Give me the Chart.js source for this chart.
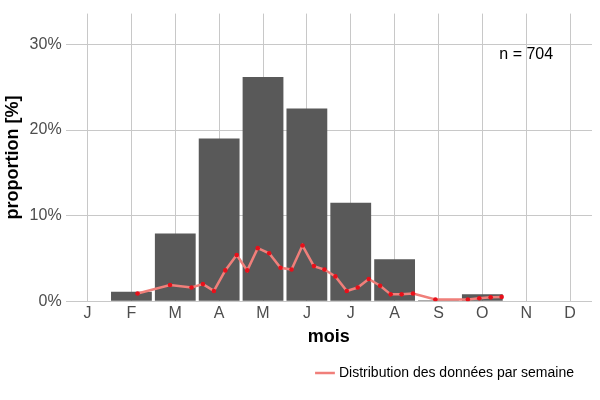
<!DOCTYPE html>
<html><head><meta charset="utf-8">
<script src="https://cdn.jsdelivr.net/npm/chart.js@4"></script>
<style>html,body{margin:0;background:#fff}#w{width:600px;height:400px}</style>
</head><body><div id="w"><canvas id="c"></canvas></div>
<script>
const months = ['J','F','M','A','M','J','J','A','S','O','N','D'];
const monthPos = [1,2,3,4,5,6,7,8,9];
const monthVals = [1.1,7.9,19.0,26.2,22.5,11.5,4.9,0.1,0.8];
const weekPos = [1.14,1.88,2.37,2.63,2.88,3.14,3.40,3.64,3.88,4.14,4.40,4.65,4.90,5.16,5.40,5.65,5.91,6.16,6.41,6.67,6.91,7.16,7.42,7.93,8.67,8.93,9.19,9.44];
const weekVals = [0.9,1.9,1.6,2.0,1.2,3.6,5.4,3.6,6.2,5.6,3.9,3.7,6.5,4.1,3.7,2.9,1.2,1.6,2.6,1.8,0.8,0.8,0.9,0.2,0.2,0.35,0.45,0.5];
const yTicks = [0,10,20,30];
const nLabel = 'n = 704';
const font = 'Liberation Sans, Arial, sans-serif';
const nPlugin = {id:'n',afterDraw(ch){const c=ch.ctx;c.save();c.font='16px '+font;c.fillStyle='#000';c.textAlign='center';c.textBaseline='middle';c.fillText(nLabel,ch.scales.x.getPixelForValue(10.0),ch.scales.y.getPixelForValue(28.8));c.restore();}};
new Chart(document.getElementById('c'),{
 type:'bar',
 data:{datasets:[
  {type:'line',label:'Distribution des données par semaine',data:weekPos.map((x,i)=>({x,y:weekVals[i]})),borderColor:'#f07f7a',borderWidth:2.5,pointRadius:2.3,pointBackgroundColor:'#e8101a',pointBorderWidth:0,tension:0},
  {label:'mois',data:monthPos.map((x,i)=>({x,y:monthVals[i]})),backgroundColor:'#595959',barPercentage:0.93,categoryPercentage:1}
 ]},
 options:{responsive:true,maintainAspectRatio:false,animation:false,
  layout:{padding:{left:2,right:8,top:-6,bottom:10}},
  plugins:{tooltip:{enabled:false},
   legend:{position:'bottom',align:'end',labels:{font:{family:font,size:14},color:'#000',boxWidth:24,padding:18,
    generateLabels:ch=>[{text:'Distribution des données par semaine',strokeStyle:'#f07f7a',fillStyle:'#f07f7a',lineWidth:2.5,pointStyle:'line',datasetIndex:0}],usePointStyle:true}}},
  scales:{
   x:{type:'linear',min:-0.5,max:11.5,offset:false,grid:{color:'#c8c8c8',drawTicks:false,offset:false},border:{display:false},
    afterBuildTicks:s=>{s.ticks=months.map((m,i)=>({value:i}));},
    ticks:{callback:(v)=>months[v],font:{family:font,size:16},color:'#4d4d4d',padding:3,autoSkip:false,maxRotation:0},
    title:{display:true,text:'mois',font:{family:font,size:18,weight:'bold'},color:'#000',padding:{top:0,bottom:0}}},
   y:{min:0,max:33.6,grid:{color:'#c8c8c8',drawTicks:false},border:{display:false},
    afterBuildTicks:s=>{s.ticks=yTicks.map(v=>({value:v}));},
    ticks:{callback:v=>v+'%',font:{family:font,size:16},color:'#4d4d4d',padding:4},
    title:{display:true,text:'proportion [%]',font:{family:font,size:18,weight:'bold'},color:'#000',padding:{top:0,bottom:2}}}
  }},
 plugins:[nPlugin]
});
</script></body></html>
